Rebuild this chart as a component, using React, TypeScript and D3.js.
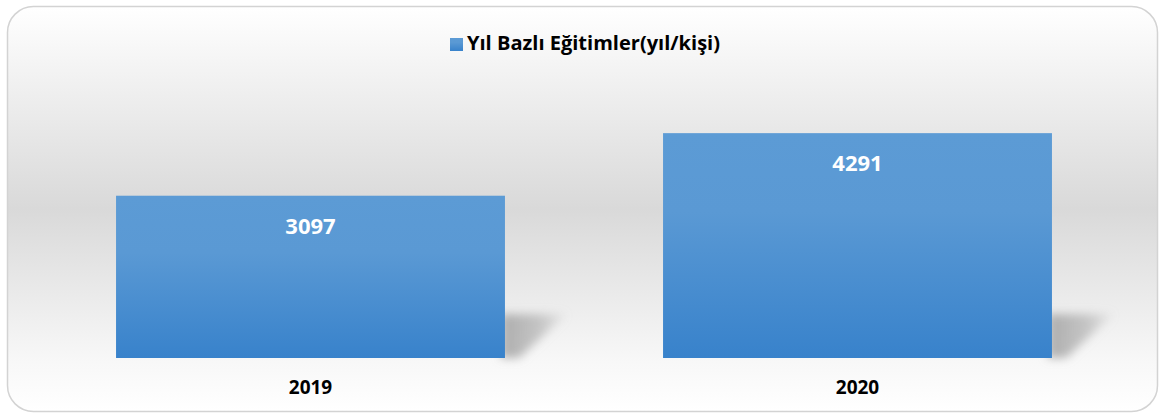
import React from "react";
import * as d3 from "d3";

const categories = ["2019", "2020"];
const values = [3097, 4291];
const seriesName = "Yıl Bazlı Eğitimler(yıl/kişi)";
const yDomainMax = 5000;

const W = 1159;
const H = 414;

export default function App() {
  const x = d3.scaleBand<string>().domain(categories).range([37, 1131]).paddingInner(0.289).paddingOuter(0.1445);
  const y = d3.scaleLinear().domain([0, yDomainMax]).range([358, 96]);
  const base = y(0);
  const font = "'Open Sans', 'Liberation Sans', Arial, sans-serif";
  return (
    <svg width={W} height={H} style={{ position: "absolute", left: 0, top: 0 }}>
      <defs>
        <linearGradient id="bg" x1="0" y1="0" x2="0" y2="1">
          <stop offset="0" stopColor="#ffffff" />
          <stop offset="0.5" stopColor="#d9d9d9" />
          <stop offset="0.88" stopColor="#f8f8f8" />
          <stop offset="1" stopColor="#ffffff" />
        </linearGradient>
        <linearGradient id="bar" x1="0" y1="0" x2="0" y2="1">
          <stop offset="0" stopColor="#5c9bd5" />
          <stop offset="0.35" stopColor="#5a99d4" />
          <stop offset="1" stopColor="#3882cb" />
        </linearGradient>
        <linearGradient id="shadow" x1="0" y1="0" x2="1" y2="0">
          <stop offset="0" stopColor="#a0a0a0" stopOpacity={0.85} />
          <stop offset="0.6" stopColor="#a8a8a8" stopOpacity={0.6} />
          <stop offset="1" stopColor="#b0b0b0" stopOpacity={0.1} />
        </linearGradient>
        <filter id="blur" x="-50%" y="-50%" width="200%" height="200%">
          <feGaussianBlur stdDeviation="5" />
        </filter>
      </defs>
      <rect x={7.5} y={6.5} width={1150} height={405} rx={26} ry={26} fill="url(#bg)" stroke="#d3d3d3" strokeWidth={1.5} />
      {categories.map((c, i) => {
        const x0 = x(c)!;
        const bw = x.bandwidth();
        const x1 = x0 + bw;
        return (
          <g key={c}>
            <polygon
              points={`${x1 - 4},${base - 44} ${x1 + 62},${base - 44} ${x1 + 14},${base} ${x1 - 4},${base}`}
              fill="url(#shadow)"
              filter="url(#blur)"
            />
            <rect x={x0} y={y(values[i])} width={bw} height={base - y(values[i])} fill="url(#bar)" />
            <text x={x0 + bw / 2} y={y(values[i]) + 38} textAnchor="middle" fill="#ffffff" fontFamily={font} fontWeight="bold" fontSize={22}>
              {values[i]}
            </text>
            <text x={x0 + bw / 2} y={394} textAnchor="middle" fill="#000000" fontFamily={font} fontWeight="bold" fontSize={19}>
              {c}
            </text>
          </g>
        );
      })}
      <rect x={450} y={38} width={13} height={13} fill="url(#bar)" />
      <text x={467} y={50} fill="#000000" fontFamily={font} fontWeight="bold" fontSize={20} textLength={253} lengthAdjust="spacingAndGlyphs">
        {seriesName}
      </text>
    </svg>
  );
}
